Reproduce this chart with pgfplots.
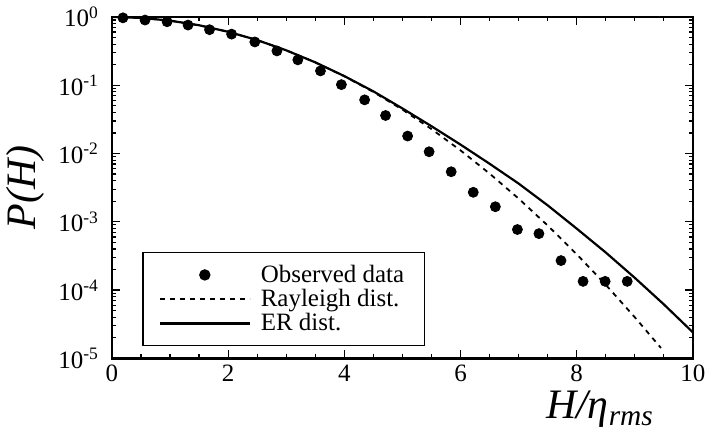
\documentclass[border=0pt]{standalone}
\usepackage{fontspec}
\setmainfont{Liberation Serif}
\usepackage{pgfplots}
\pgfplotsset{compat=1.18}
\begin{document}
\begin{tikzpicture}
\begin{axis}[
  width=291pt, height=171pt, scale only axis,
  xmin=0, xmax=10, ymin=1e-5, ymax=1,
  ymode=log,
  xtick={0,2,...,10}, minor x tick num=3,
  ytick={1e-5,1e-4,1e-3,1e-2,1e-1,1},
  yticklabels={10\textsuperscript{-5},10\textsuperscript{-4},10\textsuperscript{-3},10\textsuperscript{-2},10\textsuperscript{-1},10\textsuperscript{0}},
  /pgf/number format/assume math mode=true,
  tick align=inside,
  major tick length=4pt, minor tick length=2pt,
  every tick/.style={black, line width=0.6pt},
  axis line style={line width=1.2pt},
  ticklabel style={font=\fontsize{12.5}{14}\selectfont},
  yticklabel style={xshift=-3pt},
  xlabel={\itshape H/η\textsubscript{rms}},
  ylabel={\itshape P(H)},
  xlabel style={font=\fontsize{21}{24}\selectfont, at={(ticklabel cs:0.84)}, anchor=north, inner sep=1pt},
  ylabel style={font=\fontsize{21}{24}\selectfont},
  legend style={at={(0.052,0.035)}, anchor=south west, draw=black, line width=0.7pt,
    font=\fontsize{12.5}{13}\selectfont, inner xsep=8pt, inner ysep=4pt,
    row sep=-2pt, column sep=3pt, cells={anchor=west}},
  legend image code/.code={\draw[mark repeat=2,mark phase=2,#1] plot coordinates {(0pt,0pt) (22.5pt,0pt) (45pt,0pt)};},
]
% observed data
\addplot[only marks, mark=*, mark size=2.5pt, black] coordinates {
(0.19,0.97)(0.57,0.90)(0.95,0.85)(1.31,0.76)(1.68,0.65)(2.06,0.56)
(2.46,0.43)(2.84,0.318)(3.20,0.235)(3.59,0.162)(3.95,0.102)(4.35,0.061)
(4.71,0.036)(5.09,0.018)(5.46,0.0106)(5.84,0.0054)(6.22,0.0027)(6.60,0.00166)
(6.98,0.00077)(7.35,0.00067)(7.73,0.00027)(8.11,0.000134)(8.49,0.000134)(8.87,0.000134)
};
% Rayleigh
\addplot[black, line width=0.9pt, dash pattern=on 2.5pt off 2.5pt] coordinates {
(0,1)(0.5,0.9692)(1,0.8825)(1.5,0.7548)(2,0.6065)(2.5,0.4578)(3,0.3247)
(3.5,0.2163)(4,0.1353)(4.5,0.0796)(5,0.04394)(5.5,0.02279)(6,0.01111)
(6.5,0.005086)(7,0.002187)(7.5,0.000883)(8,0.000335)(8.5,0.0001195)
(9,0.0000400)(9.45,0.0000142)
};
% ER
\addplot[black, line width=1.1pt] coordinates {
(0,1)(0.5,0.9692)(1,0.8825)(1.5,0.7551)(2,0.6067)(2.5,0.4581)(3,0.3243)
(3.5,0.2163)(4,0.1361)(4.5,0.0813)(5,0.0457)(5.5,0.0251)(6,0.0135)
(6.5,0.00708)(7,0.00363)(7.5,0.00174)(8,0.000794)(8.5,0.000355)
(9,0.000151)(9.5,0.0000617)(10,0.0000240)
};
\legend{Observed data,Rayleigh dist.,ER dist.}
\end{axis}
\end{tikzpicture}
\end{document}
